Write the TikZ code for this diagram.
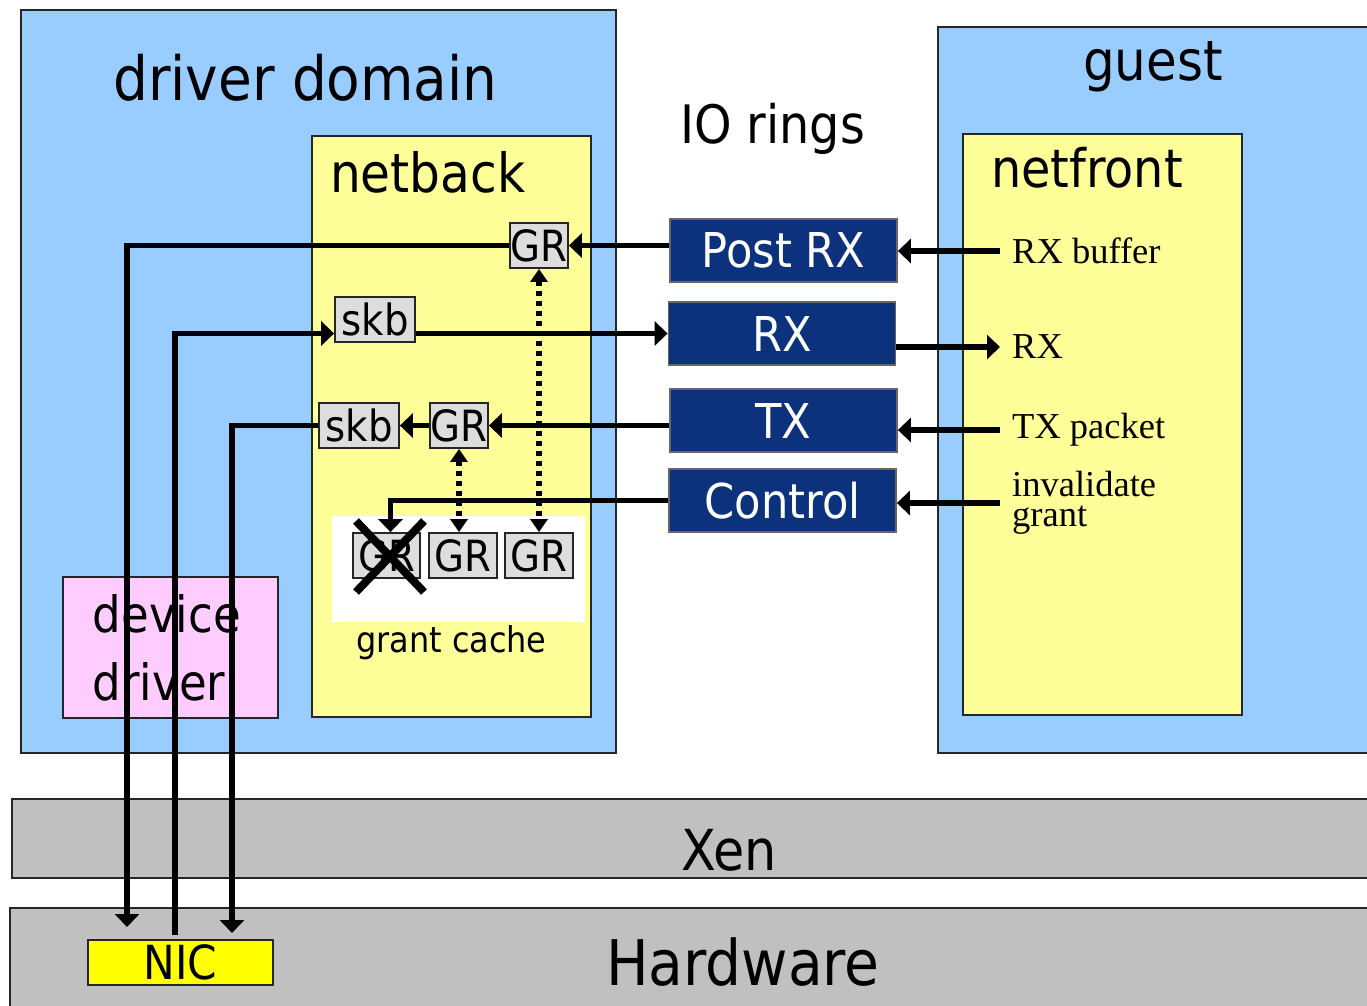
\documentclass[tikz,border=0pt]{standalone}
\usepackage{fontspec}
\setmainfont{DejaVu Sans Condensed}
\newfontfamily\timesfont{Liberation Serif}
\usetikzlibrary{arrows.meta}
\definecolor{domblue}{RGB}{153,204,255}
\definecolor{backyellow}{RGB}{255,255,153}
\definecolor{ddpink}{RGB}{255,204,255}
\definecolor{xengray}{RGB}{192,192,192}
\definecolor{grgray}{RGB}{221,221,221}
\definecolor{ringblue}{RGB}{12,50,125}
\definecolor{nicyellow}{RGB}{255,255,0}

\begin{document}
\begin{tikzpicture}[x=1pt, y=-1pt,
  box/.style={draw=black!85, line width=1.8pt},
  slot/.style={box, fill=grgray, inner sep=0pt, minimum height=45pt, font=\fontsize{43}{44}\selectfont},
  ring/.style={draw=black!60, line width=1.8pt, fill=ringblue, text=white, inner sep=0pt,
    minimum width=227pt, minimum height=63pt, font=\fontsize{48}{50}\selectfont},
  title/.style={anchor=base west, inner sep=0pt},
  guestlbl/.style={anchor=west, inner xsep=12pt, inner ysep=0pt, align=left,
    font=\timesfont\fontsize{36.5}{30}\selectfont},
  flow/.style={line width=5.5pt, -{Triangle[length=13pt,width=24pt]}},
  grantflow/.style={line width=6pt, dash pattern=on 5pt off 5pt,
    {Triangle[length=13pt,width=17pt]}-{Triangle[length=13pt,width=17pt]}}]
\path[use as bounding box, fill=white] (0,0) rectangle (1367,1005);

% domains
\draw[box, fill=domblue] (21,10) rectangle (616,753);
\draw[box, fill=backyellow] (312,136) rectangle (591,717);
\draw[box, fill=domblue] (938,27) rectangle (1380,753);
\draw[box, fill=backyellow] (963,134) rectangle (1242,715);
\fill[white] (332,516) rectangle (585,622);
\draw[box, fill=xengray] (12,799) rectangle (1380,878);
\draw[box, fill=xengray] (10,908) rectangle (1380,1020);

\node[title, font=\fontsize{61}{64}\selectfont] (ddtitle) at (113,100) {driver domain};
\node[title, font=\fontsize{54}{56}\selectfont] (nbtitle) at (330,192) {netback};
\node[title, font=\fontsize{53}{56}\selectfont] (iotitle) at (680,143) {IO rings};
\node[title, font=\fontsize{55.5}{58}\selectfont] (gtitle) at (1083,80) {guest};
\node[title, font=\fontsize{53}{56}\selectfont] (nftitle) at (991,187) {netfront};
\node[title, font=\fontsize{35.5}{38}\selectfont] (gctitle) at (356,652) {grant cache};
\node[anchor=base, inner sep=0pt, font=\fontsize{56.5}{58}\selectfont] (xen) at (729,870) {Xen};
\node[anchor=base, inner sep=0pt, font=\fontsize{63}{66}\selectfont] (hw) at (743,985) {Hardware};

\node[box, fill=ddpink, anchor=north west, minimum width=215pt, minimum height=141pt,
  text width=155pt, inner xsep=30pt, align=left, font=\fontsize{50}{68}\selectfont]
  (devdrv) at (62,576) {device\\driver};
\node[box, fill=nicyellow, minimum width=185pt, minimum height=45pt, inner sep=0pt,
  font=\fontsize{47}{48}\selectfont] (nic) at (180.5,962.5) {NIC};

% IO rings
\node[ring] (postrx) at (783.5,250.5) {Post RX};
\node[ring] (rx) at (782,333.5) {RX};
\node[ring] (tx) at (783.5,420.5) {TX};
\node[ring] (ctrl) at (782.5,500.5) {Control};

% buffers and grants
\node[slot, minimum width=58pt] (grpost) at (539,245.5) {GR};
\node[slot, minimum width=80pt] (skbrx) at (375,319.5) {skb};
\node[slot, minimum width=80pt] (skbtx) at (359,425.5) {skb};
\node[slot, minimum width=58pt] (grtx) at (459,425.5) {GR};
\node[slot, minimum width=67pt] (cacheA) at (386.5,555.5) {GR};
\node[slot, minimum width=68pt] (cacheB) at (463,555.5) {GR};
\node[slot, minimum width=68pt] (cacheC) at (539,555.5) {GR};
\draw[line width=8pt] (356,521) -- (424,592) (356,592) -- (424,521);

% guest side
\node[guestlbl] (lrxbuf) at (1000,251) {RX buffer};
\node[guestlbl] (lrx) at (1000,347) {RX};
\node[guestlbl] (ltx) at (1000,430) {TX packet};
\node[guestlbl] (linv) at (1000,503) {invalidate\\grant};

\coordinate (nicrx) at (127,927);
\coordinate (nicout) at (175,935);
\coordinate (nictx) at (232,933);

% flows
\draw[flow] (lrxbuf.west) -- (lrxbuf.west -| postrx.east);
\draw[flow] (grpost.east -| postrx.west) -- (grpost.east);
\draw[flow] (grpost.west) -| (nicrx);
\draw[flow] (nicout) |- (skbrx.west |- rx.west);
\draw[flow] (skbrx.east |- rx.west) -- (rx.west);
\draw[flow] (lrx.west -| rx.east) -- (lrx.west);
\draw[flow] (ltx.west) -- (ltx.west -| tx.east);
\draw[flow] (grtx.east -| tx.west) -- (grtx.east);
\draw[flow] (grtx.west) -- (skbtx.east);
\draw[flow] (skbtx.west) -| (nictx);
\draw[flow] (linv.west) -- (linv.west -| ctrl.east);
\draw[flow] (ctrl.west) -| ([xshift=4pt]cacheA.north);
\draw[grantflow] (grtx.south) -- (grtx.south |- cacheB.north);
\draw[grantflow] (grpost.south) -- (grpost.south |- cacheC.north);
\end{tikzpicture}
\end{document}
